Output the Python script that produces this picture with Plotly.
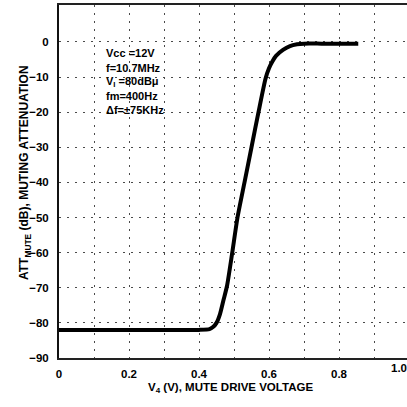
import plotly.graph_objects as go

# Data
v4 = [0, 0.1, 0.2, 0.3, 0.4, 0.43, 0.44, 0.45, 0.46, 0.47, 0.48, 0.495, 0.51, 0.53,
      0.55, 0.57, 0.59, 0.60, 0.61, 0.62, 0.64, 0.66, 0.68, 0.70, 0.75, 0.80, 0.855]
att = [-82, -82, -82, -82, -82, -81.8, -81.2, -80, -77.5, -73.5, -69.5, -60, -50, -40,
       -30, -20, -10.5, -7.5, -5.5, -4, -2.3, -1.2, -0.7, -0.5, -0.5, -0.5, -0.5]

x_ticks = [0, 0.2, 0.4, 0.6, 0.8]
x_labels = ["0", "0.2", "0.4", "0.6", "0.8"]
x_minor = [0.1, 0.3, 0.5, 0.7, 0.9]
y_ticks = [0, -10, -20, -30, -40, -50, -60, -70, -80, -90]
y_labels = ["0", "\u221210", "\u221220", "\u221230", "\u221240", "\u221250",
            "\u221260", "\u221270", "\u221280", "\u221290"]
cond_lines = ["Vcc =12V", "f=10.7MHz", "V<sub>I</sub> =80dB\u03bc", "fm=400Hz", "\u0394f=\u00b175KHz"]

FONT = "Liberation Sans, Arial, sans-serif"
L, T, W, H = 59, 5, 348, 353  # plot area in pixels


def px(xp):
    return (xp - L) / W


def py(yp):
    return (T + H - yp) / H


fig = go.Figure()
fig.add_trace(go.Scatter(
    x=v4, y=att, mode="lines",
    line=dict(color="black", width=4, shape="spline", smoothing=0.6),
    hoverinfo="skip", showlegend=False))

GRID_COLOR = "#4a4a4a"
GRID_DASH = "2px,6px"

fig.update_layout(
    width=407, height=407,
    margin=dict(l=L, r=407 - L - W, t=T, b=407 - T - H),
    paper_bgcolor="white", plot_bgcolor="white",
    font=dict(family=FONT, color="black"),
    xaxis=dict(range=[0, W / 350], tickvals=x_ticks, ticktext=x_labels,
               showline=True, linecolor="#222", linewidth=2, mirror=True,
               ticks="", zeroline=False, ticklabelstandoff=4,
               showgrid=True, gridcolor=GRID_COLOR, gridwidth=1, griddash=GRID_DASH,
               minor=dict(tickvals=x_minor, showgrid=True, gridcolor=GRID_COLOR,
                          gridwidth=1, griddash=GRID_DASH, ticks=""),
               tickfont=dict(size=11.5, family=FONT, weight="bold")),
    yaxis=dict(range=[-90, 10.5], tickvals=y_ticks, ticktext=y_labels,
               showline=True, linecolor="#111", linewidth=2, mirror=False,
               ticks="", zeroline=False, ticklabelstandoff=6,
               showgrid=True, gridcolor=GRID_COLOR, gridwidth=1, griddash=GRID_DASH,
               tickfont=dict(size=11.5, family=FONT, weight="bold")),
)

# "1.0" label at the clipped right edge
fig.add_annotation(x=px(L + 350), y=py(368), xref="paper", yref="paper",
                   yanchor="middle", text="<b>1.0</b>", showarrow=False,
                   font=dict(size=11.5, family=FONT))

# x title
fig.add_annotation(x=px(230), y=py(397), xref="paper", yref="paper", showarrow=False,
                   text="<b>V<sub>4</sub> (V), MUTE DRIVE VOLTAGE</b>",
                   font=dict(size=11.5, family=FONT))

# y title
fig.add_annotation(x=px(15), y=py(173), xref="paper", yref="paper",
                   showarrow=False, textangle=-90,
                   text="<b>ATT<sub>MUTE</sub> (dB), MUTING ATTENUATION</b>",
                   font=dict(size=12, family=FONT))

# condition text block
line_y = [53, 68, 82, 96, 110]
for txt, yy in zip(cond_lines, line_y):
    fig.add_annotation(x=px(104), y=py(yy), xref="paper", yref="paper",
                       xanchor="left", yanchor="middle", showarrow=False,
                       text="<b>" + txt + "</b>", font=dict(size=11, family=FONT))

fig.write_html("out.html", config={"displayModeBar": False},
               post_script="document.body.style.margin='0';")
